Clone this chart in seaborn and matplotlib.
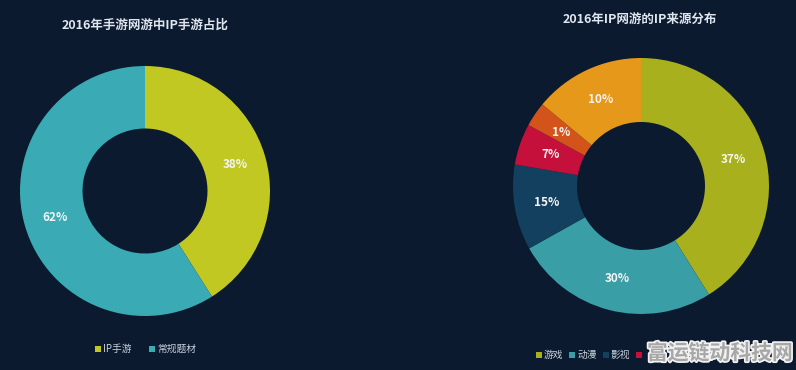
import matplotlib
matplotlib.use("Agg")
import numpy as np
import matplotlib.pyplot as plt
import matplotlib.patheffects as pe
from matplotlib.lines import Line2D
import seaborn as sns

# left chart data (wedge sizes as drawn, labels as printed)
left_title = "2016年手游网游中IP手游占比"
left_labels = ["IP手游", "常规题材"]
left_shares = [41, 59]
left_texts = ["38%", "62%"]
left_colors = ["#c2c822", "#3aaab4"]

# right chart data
right_title = "2016年IP网游的IP来源分布"
right_labels = ["游戏", "动漫", "影视", ""]
right_shares = [41.1, 25.8, 10.8, 5.2, 3.1, 14.0]
right_texts = ["37%", "30%", "15%", "7%", "1%", "10%"]
right_colors = ["#a9b01d", "#3a9ea6", "#13405f", "#c4103a", "#d2541a", "#e6981b"]

bg = "#0b1a2e"
txt = "#dfe6ee"

sns.set_theme(style="dark")
plt.rcParams["font.family"] = ["Noto Sans CJK SC", "DejaVu Sans"]

W, H = 796, 370
fig = plt.figure(figsize=(W / 100, H / 100), dpi=100)
fig.patch.set_facecolor(bg)


def donut(cx, cy, r, values, texts, colors, inner=0.5):
    ax = fig.add_axes([(cx - r) / W, (H - cy - r) / H, 2 * r / W, 2 * r / H])
    ax.set_facecolor(bg)
    wedges, _ = ax.pie(values, colors=colors, startangle=90, counterclock=False,
                       radius=1, wedgeprops=dict(width=1 - inner, linewidth=0))
    # percentage labels in the middle of each ring segment
    rr = (1 + inner) / 2
    for w, t in zip(wedges, texts):
        ang = np.deg2rad((w.theta1 + w.theta2) / 2)
        ax.text(rr * np.cos(ang), rr * np.sin(ang), t, ha="center", va="center",
                color="#f4f4f4", fontsize=8.5, fontweight="bold")
    ax.set_xlim(-1, 1)
    ax.set_ylim(-1, 1)
    ax.set_aspect("equal")
    ax.axis("off")
    return ax


donut(145, 191, 125, left_shares, left_texts, left_colors)
donut(641, 186, 128, right_shares, right_texts, right_colors)

fig.text(145 / W, 1 - 25 / H, left_title, ha="center", va="center",
         color=txt, fontsize=9, fontweight="bold")
fig.text(640 / W, 1 - 19 / H, right_title, ha="center", va="center",
         color=txt, fontsize=9, fontweight="bold")


def handles(colors):
    return [Line2D([], [], marker="s", linestyle="", markersize=4,
                   markerfacecolor=c, markeredgewidth=0) for c in colors]


fig.legend(handles(left_colors), left_labels, loc="center",
           bbox_to_anchor=(145 / W, 1 - 349 / H), ncol=2, frameon=False,
           fontsize=7, labelcolor="#c9d2dc", handletextpad=0.1,
           columnspacing=1.8, handlelength=0.8)
fig.legend(handles(right_colors[:4]), right_labels, loc="center left",
           bbox_to_anchor=(526 / W, 1 - 355 / H), ncol=4, frameon=False,
           fontsize=7, labelcolor="#c9d2dc", handletextpad=0.1,
           columnspacing=0.55, handlelength=0.8)

# site watermark over the end of the right legend
fig.text(720 / W, 1 - 353 / H, "富运链动科技网", ha="center", va="center",
         color="#a7a7a7", fontsize=15, fontweight="bold", zorder=10,
         path_effects=[pe.withStroke(linewidth=2.5, foreground="#f2f2f2")])

fig.savefig("out.png", dpi=100, facecolor=bg)
